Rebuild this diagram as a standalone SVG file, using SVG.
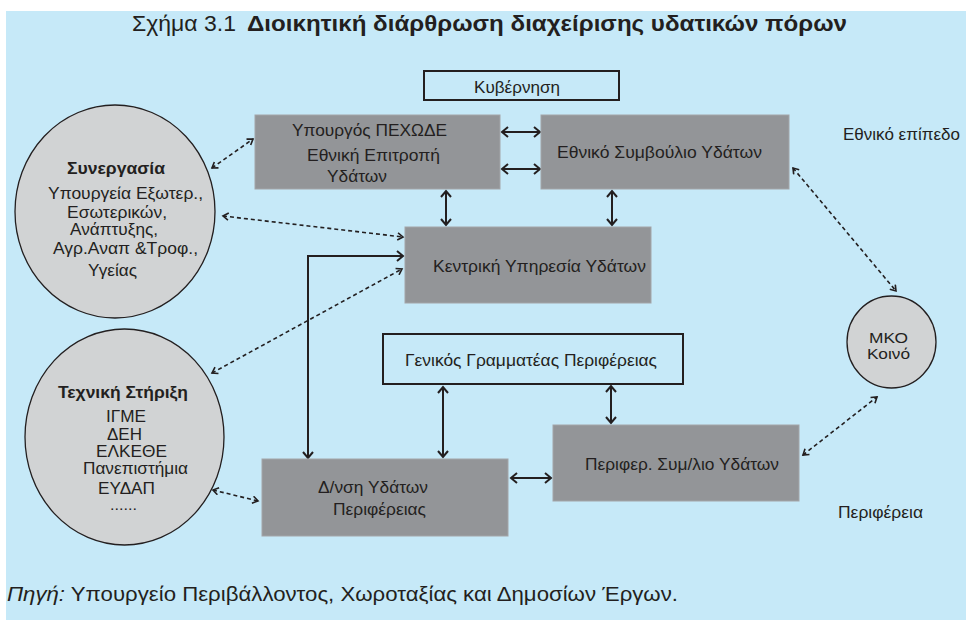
<svg xmlns="http://www.w3.org/2000/svg" width="966" height="620" viewBox="0 0 966 620">
<style>
text{font-family:"Liberation Sans",Arial,sans-serif;fill:#231f20;font-size:17px}
.b{font-weight:bold}
.e{font-size:16px}
.box{fill:#939598;stroke:#a3a5a8;stroke-width:1}
.wbox{fill:none;stroke:#231f20;stroke-width:2}
.ell{fill:#d1d3d4;stroke:#231f20;stroke-width:1.3}
.sol{fill:none;stroke:#231f20;stroke-width:2;marker-start:url(#ah);marker-end:url(#ah)}
.dsh{fill:none;stroke:#231f20;stroke-width:1.6;stroke-dasharray:4 3;marker-start:url(#ahd);marker-end:url(#ahd)}
</style>
<defs>
<marker id="ah" viewBox="0 0 10 12" refX="7" refY="6" markerWidth="10" markerHeight="12" markerUnits="userSpaceOnUse" orient="auto-start-reverse">
<path d="M1,1 L7,6 L1,11" fill="none" stroke="#231f20" stroke-width="2"/>
</marker>
<marker id="ahd" viewBox="0 0 10 10" refX="7" refY="5" markerWidth="9" markerHeight="9" markerUnits="userSpaceOnUse" orient="auto-start-reverse">
<path d="M1,1 L7,5 L1,9" fill="none" stroke="#231f20" stroke-width="1.8"/>
</marker>
</defs>
<rect x="0" y="0" width="966" height="620" fill="#ffffff"/>
<rect x="6" y="11" width="960" height="609" fill="#c6e9f8"/>
<g id="title">
<text x="132" y="31" style="font-size:22px" textLength="104" lengthAdjust="spacingAndGlyphs">Σχήμα 3.1</text>
<text class="b" x="247" y="31" style="font-size:22px" textLength="600" lengthAdjust="spacingAndGlyphs">Διοικητική διάρθρωση διαχείρισης υδατικών πόρων</text>
</g>
<g id="connectors">
<line class="sol" x1="502" y1="132" x2="540" y2="132"/>
<line class="sol" x1="502" y1="169" x2="540" y2="169"/>
<line class="sol" x1="446" y1="191" x2="446" y2="225"/>
<line class="sol" x1="612" y1="191" x2="612" y2="225"/>
<path class="sol" d="M403,256 L308,256 L308,458"/>
<line class="sol" x1="443" y1="387" x2="443" y2="457"/>
<line class="sol" x1="611" y1="386" x2="611" y2="423"/>
<line class="sol" x1="511" y1="478" x2="551" y2="478"/>
<line class="dsh" x1="212" y1="168" x2="253" y2="139"/>
<line class="dsh" x1="223" y1="216" x2="403" y2="237"/>
<line class="dsh" x1="212" y1="373" x2="402" y2="269"/>
<line class="dsh" x1="213" y1="490" x2="258" y2="501"/>
<line class="dsh" x1="793" y1="168" x2="896" y2="291"/>
<line class="dsh" x1="803" y1="455" x2="877" y2="397"/>
</g>
<g id="kyvernisi">
<rect class="wbox" x="424" y="71" width="195" height="29"/>
<text x="474" y="93" textLength="86" lengthAdjust="spacingAndGlyphs">Κυβέρνηση</text>
</g>
<g id="ypourgos">
<rect class="box" x="255" y="115" width="245" height="74"/>
<text x="292" y="136" textLength="155" lengthAdjust="spacingAndGlyphs">Υπουργός ΠΕΧΩΔΕ</text>
<text x="307" y="161" textLength="133" lengthAdjust="spacingAndGlyphs">Εθνική Επιτροπή</text>
<text x="327" y="182" textLength="60" lengthAdjust="spacingAndGlyphs">Υδάτων</text>
</g>
<g id="ethniko-symvoulio">
<rect class="box" x="541" y="115" width="248" height="74"/>
<text x="557" y="158" textLength="205" lengthAdjust="spacingAndGlyphs">Εθνικό Συμβούλιο Υδάτων</text>
</g>
<g id="kentriki">
<rect class="box" x="405" y="227" width="246" height="76"/>
<text x="433" y="272" textLength="213" lengthAdjust="spacingAndGlyphs">Κεντρική Υπηρεσία Υδάτων</text>
</g>
<g id="genikos">
<rect class="wbox" x="383" y="334" width="300" height="50"/>
<text x="405" y="366" textLength="252" lengthAdjust="spacingAndGlyphs">Γενικός Γραμματέας Περιφέρειας</text>
</g>
<g id="perifer-symvoulio">
<rect class="box" x="553" y="425" width="246" height="76"/>
<text x="585" y="470" textLength="194" lengthAdjust="spacingAndGlyphs">Περιφερ. Συμ/λιο Υδάτων</text>
</g>
<g id="dnsi">
<rect class="box" x="262" y="459" width="246" height="77"/>
<text x="318" y="493" textLength="110" lengthAdjust="spacingAndGlyphs">Δ/νση Υδάτων</text>
<text x="333" y="515" textLength="93" lengthAdjust="spacingAndGlyphs">Περιφέρειας</text>
</g>
<g id="synergasia">
<ellipse class="ell" cx="115" cy="211.5" rx="100" ry="106.5"/>
<text class="b e" x="67" y="174" textLength="98" lengthAdjust="spacingAndGlyphs">Συνεργασία</text>
<text class="e" x="48" y="199" textLength="155" lengthAdjust="spacingAndGlyphs">Υπουργεία Εξωτερ.,</text>
<text class="e" x="67" y="218" textLength="100" lengthAdjust="spacingAndGlyphs">Εσωτερικών,</text>
<text class="e" x="70" y="235" textLength="88" lengthAdjust="spacingAndGlyphs">Ανάπτυξης,</text>
<text class="e" x="53" y="254" textLength="145" lengthAdjust="spacingAndGlyphs">Αγρ.Αναπ &amp;Τροφ.,</text>
<text class="e" x="88" y="276" textLength="49" lengthAdjust="spacingAndGlyphs">Υγείας</text>
</g>
<g id="techniki">
<ellipse class="ell" cx="124.5" cy="437" rx="99.5" ry="108"/>
<text class="b e" x="58" y="398" textLength="130" lengthAdjust="spacingAndGlyphs">Τεχνική Στήριξη</text>
<text class="e" x="106" y="422" textLength="40" lengthAdjust="spacingAndGlyphs">ΙΓΜΕ</text>
<text class="e" x="107" y="440" textLength="35" lengthAdjust="spacingAndGlyphs">ΔΕΗ</text>
<text class="e" x="96" y="457" textLength="71" lengthAdjust="spacingAndGlyphs">ΕΛΚΕΘΕ</text>
<text class="e" x="83" y="474" textLength="105" lengthAdjust="spacingAndGlyphs">Πανεπιστήμια</text>
<text class="e" x="98" y="494" textLength="57" lengthAdjust="spacingAndGlyphs">ΕΥΔΑΠ</text>
<text x="110" y="510" style="font-size:14px" textLength="27" lengthAdjust="spacingAndGlyphs">......</text>
</g>
<g id="mko">
<ellipse class="ell" cx="891.5" cy="342" rx="44.5" ry="46"/>
<text x="869" y="343" style="font-size:15px" textLength="39" lengthAdjust="spacingAndGlyphs">ΜΚΟ</text>
<text x="867" y="359" style="font-size:15px" textLength="43" lengthAdjust="spacingAndGlyphs">Κοινό</text>
</g>
<g id="labels">
<text x="843" y="140" textLength="117" lengthAdjust="spacingAndGlyphs">Εθνικό επίπεδο</text>
<text x="838" y="518" textLength="85" lengthAdjust="spacingAndGlyphs">Περιφέρεια</text>
</g>
<g id="source">
<text x="7" y="601" style="font-size:20px" textLength="671" lengthAdjust="spacingAndGlyphs"><tspan font-style="italic">Πηγή:</tspan> Υπουργείο Περιβάλλοντος, Χωροταξίας και Δημοσίων Έργων.</text>
</g>
</svg>
